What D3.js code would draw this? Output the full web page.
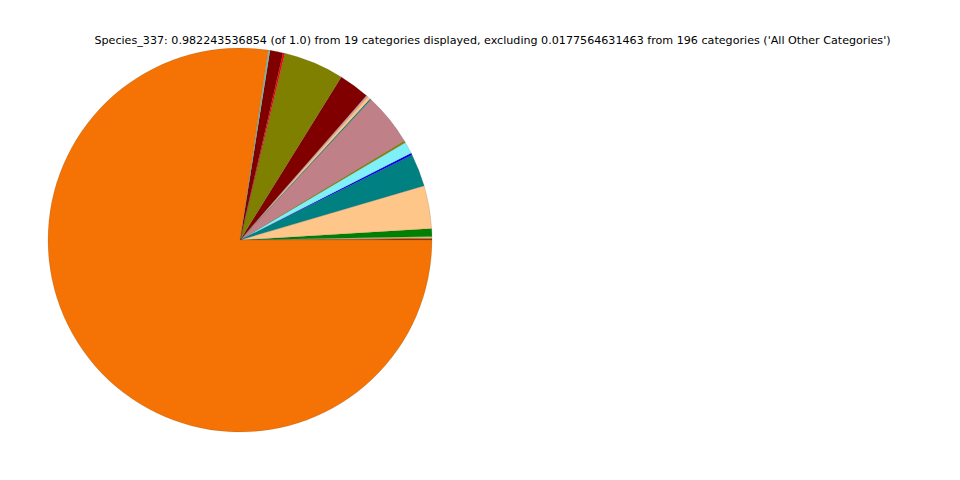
<!DOCTYPE html>
<html>
<head>
<meta charset="utf-8">
<script src="https://cdn.jsdelivr.net/npm/d3@7"></script>
<style>
html,body{margin:0;padding:0;background:#fff;}
svg{display:block;}
</style>
</head>
<body>
<svg id="chart" width="960" height="480"></svg>
<script>
// Data: fractions of 1.0, in drawing order (counter-clockwise from 3 o'clock)
const categories = ["c1","c2","c3","c4","c5","c6","c7","c8","c9","c10","c11","c12","c13","c14","c15","c16","c17","c18","c19"];
const values = [0.0010, 0.0008, 0.0010, 0.0066, 0.0354, 0.0270, 0.0017, 0.0098, 0.0017, 0.0432, 0.0010, 0.0025, 0.0015, 0.0255, 0.0500, 0.0015, 0.0108, 0.0015, 0.7597];
const colors = ["#8b3a0a","#f47304","#e0d080","#008000","#ffc68a","#008080","#0000ff","#80f0f8","#8b8000","#bf8088","#008080","#ffc68a","#d8a0a0","#800000","#808000","#ff0000","#800000","#7fbfa8","#f47304"];
const titleText = "Species_337: 0.982243536854 (of 1.0) from 19 categories displayed, excluding 0.0177564631463 from 196 categories ('All Other Categories')";

const svg = d3.select("#chart");
const cx = 240, cy = 240, R = 192;

const data = categories.map((c, i) => ({cat: c, value: values[i], color: colors[i]}));

const pie = d3.pie()
  .value(d => d.value)
  .sort(null)
  .startAngle(Math.PI / 2)
  .endAngle(Math.PI / 2 - 2 * Math.PI);

const arc = d3.arc().innerRadius(0).outerRadius(R);

const g = svg.append("g").attr("transform", `translate(${cx},${cy})`);
g.selectAll("path")
  .data(pie(data))
  .join("path")
  .attr("d", arc)
  .attr("fill", d => d.data.color)
  .attr("stroke", "rgba(60,60,60,0.35)")
  .attr("stroke-width", 0.4);

svg.append("text")
  .attr("x", 492.5)
  .attr("y", 44)
  .attr("text-anchor", "middle")
  .attr("font-family", "DejaVu Sans, sans-serif")
  .attr("font-size", "11.14px")
  .attr("fill", "#000")
  .text(titleText);
</script>
</body>
</html>
